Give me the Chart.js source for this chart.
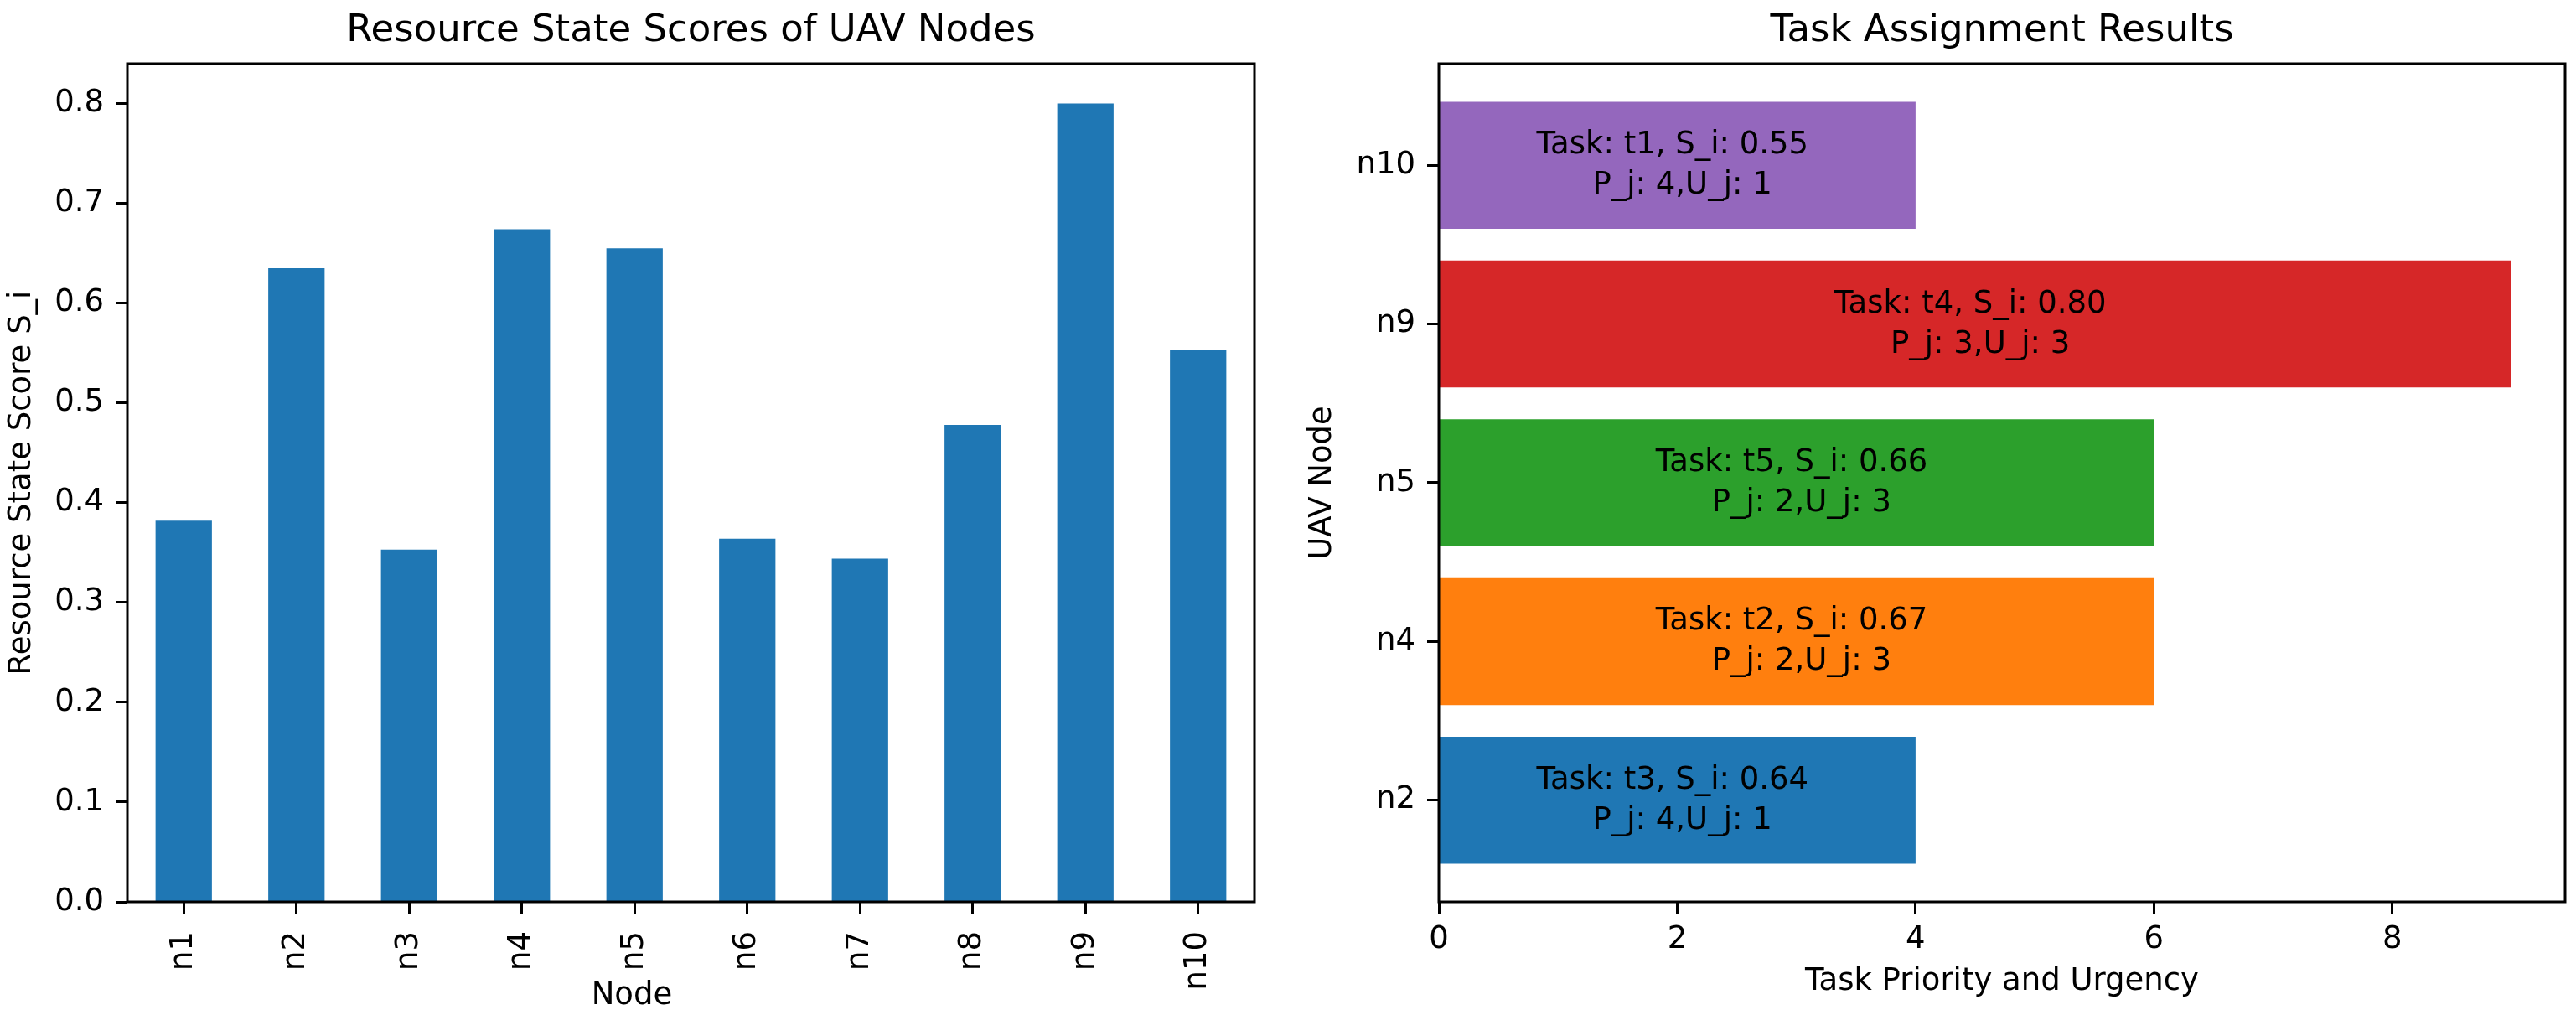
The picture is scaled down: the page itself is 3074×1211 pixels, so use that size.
<!DOCTYPE html>
<html>
<head>
<meta charset="utf-8">
<script src="https://cdn.jsdelivr.net/npm/chart.js@4/dist/chart.umd.min.js"></script>
<style>
    html, body { margin: 0; padding: 0; background: #fff; }
    #wrap { position: relative; width: 3074px; height: 1211px; overflow: hidden; }
    .box { position: absolute; top: 0; }
</style>
</head>
<body>
<div id="wrap">
    <div class="box" style="left:0"><canvas id="scoreChart" width="1540" height="1211"></canvas></div>
    <div class="box" style="left:1540px"><canvas id="taskChart" width="1534" height="1211"></canvas></div>
</div>
<script>
// left panel: resource state score per node
var nodes = ['n1', 'n2', 'n3', 'n4', 'n5', 'n6', 'n7', 'n8', 'n9', 'n10'];
var scores = [0.382, 0.635, 0.353, 0.674, 0.655, 0.364, 0.344, 0.478, 0.800, 0.553];
var scoreTicks = [0.0, 0.1, 0.2, 0.3, 0.4, 0.5, 0.6, 0.7, 0.8];

// right panel: task assignment (bottom to top)
var assignNodes = ['n2', 'n4', 'n5', 'n9', 'n10'];
var assignValues = [4, 6, 6, 9, 4];
var assignTasks = ['t3', 't2', 't5', 't4', 't1'];
var assignScores = [0.64, 0.67, 0.66, 0.80, 0.55];
var assignP = [4, 2, 2, 3, 4];
var assignU = [1, 3, 3, 3, 1];
var assignColors = ['#1f77b4', '#ff7f0e', '#2ca02c', '#d62728', '#9467bd'];
var priorityTicks = [0, 2, 4, 6, 8];

Chart.defaults.font.family = "'DejaVu Sans', sans-serif";
Chart.defaults.color = '#000';
Chart.defaults.animation = false;

var FONT_TICK = 37;
var FONT_TITLE = 45;

// black box round the plot area, like matplotlib spines
var framePlugin = {
    id: 'frame',
    afterDraw: function (chart) {
        var a = chart.chartArea, ctx = chart.ctx;
        ctx.save();
        ctx.strokeStyle = '#000';
        ctx.lineWidth = 3;
        ctx.strokeRect(a.left, a.top, a.right - a.left, a.bottom - a.top);
        ctx.restore();
    }
};

// two-line text in the middle of each horizontal bar
var barTextPlugin = {
    id: 'barText',
    afterDatasetsDraw: function (chart) {
        var ctx = chart.ctx;
        var meta = chart.getDatasetMeta(0);
        ctx.save();
        ctx.font = FONT_TICK + "px 'DejaVu Sans'";
        ctx.fillStyle = '#000';
        ctx.textAlign = 'center';
        ctx.textBaseline = 'alphabetic';
        meta.data.forEach(function (bar, i) {
            var cx = (bar.x + bar.base) / 2;
            var line1 = 'Task: ' + assignTasks[i] + ', S_i: ' + assignScores[i].toFixed(2) + ' ';
            var line2 = ' P_j: ' + assignP[i] + ',U_j: ' + assignU[i];
            ctx.fillText(line1, cx, bar.y - 14);
            ctx.fillText(line2, cx, bar.y + 34);
        });
        ctx.restore();
    }
};

function fixWidth(w) { return function (s) { s.width = w; }; }
function fixHeight(h) { return function (s) { s.height = h; }; }

var tickGrid = {
    drawOnChartArea: false,
    drawTicks: true,
    tickLength: 14,
    tickWidth: 3,
    tickColor: '#000',
    offset: false
};

var titleAxis = function (text, pad) {
    return {
        type: 'linear',
        position: 'top',
        min: 0, max: 1,
        ticks: { display: false },
        grid: { display: false },
        border: { display: false },
        title: { display: true, text: text, font: { size: FONT_TITLE }, padding: { top: pad, bottom: 0 } },
        afterFit: fixHeight(76)
    };
};

new Chart(document.getElementById('scoreChart'), {
    type: 'bar',
    data: {
        labels: nodes,
        datasets: [{
            data: scores,
            backgroundColor: '#1f77b4',
            borderWidth: 0,
            categoryPercentage: 1.0,
            barPercentage: 0.5
        }]
    },
    options: {
        responsive: false,
        devicePixelRatio: 1,
        layout: { padding: { left: 0, right: 43, top: 0, bottom: 0 } },
        plugins: { legend: { display: false }, tooltip: { enabled: false } },
        scales: {
            x: {
                type: 'category',
                position: 'bottom',
                grid: tickGrid,
                border: { display: false },
                ticks: { font: { size: FONT_TICK }, minRotation: 90, maxRotation: 90, autoSkip: false, padding: 21 },
                title: { display: true, text: 'Node' + '\u00a0'.repeat(12), font: { size: FONT_TICK }, padding: { top: 0, bottom: 0 } },
                afterFit: fixHeight(135)
            },
            y: {
                min: 0,
                max: 0.84,
                grid: tickGrid,
                border: { display: false },
                ticks: {
                    font: { size: FONT_TICK },
                    padding: 14,
                    callback: function (v) { return v.toFixed(1); }
                },
                afterBuildTicks: function (s) { s.ticks = scoreTicks.map(function (v) { return { value: v }; }); },
                title: { display: true, text: 'Resource State Score S_i', font: { size: FONT_TICK }, padding: { top: 4, bottom: 0 } },
                afterFit: fixWidth(152)
            },
            top: titleAxis('Resource State Scores of UAV Nodes', 10)
        }
    },
    plugins: [framePlugin]
});

new Chart(document.getElementById('taskChart'), {
    type: 'bar',
    data: {
        datasets: [{
            data: assignNodes.map(function (n, i) { return { x: assignValues[i], y: i }; }),
            backgroundColor: assignColors,
            borderWidth: 0,
            categoryPercentage: 1.0,
            barPercentage: 0.8
        }]
    },
    options: {
        indexAxis: 'y',
        responsive: false,
        devicePixelRatio: 1,
        layout: { padding: { left: 0, right: 13, top: 0, bottom: 0 } },
        plugins: { legend: { display: false }, tooltip: { enabled: false } },
        scales: {
            x: {
                type: 'linear',
                position: 'bottom',
                min: 0,
                max: 9.45,
                grid: tickGrid,
                border: { display: false },
                ticks: { font: { size: FONT_TICK }, padding: 9, callback: function (v) { return String(v); } },
                afterBuildTicks: function (s) { s.ticks = priorityTicks.map(function (v) { return { value: v }; }); },
                title: { display: true, text: 'Task Priority and Urgency', font: { size: FONT_TICK }, padding: { top: 0, bottom: 17 } },
                afterFit: fixHeight(135)
            },
            y: {
                type: 'linear',
                position: 'left',
                min: -0.64,
                max: 4.64,
                offset: false,
                grid: tickGrid,
                border: { display: false },
                ticks: { font: { size: FONT_TICK }, padding: 14, callback: function (v) { return assignNodes[v]; } },
                afterBuildTicks: function (s) { s.ticks = assignNodes.map(function (n, i) { return { value: i }; }); },
                title: { display: true, text: 'UAV Node', font: { size: FONT_TICK }, padding: { top: 16, bottom: 0 } },
                afterFit: fixWidth(177)
            },
            top: titleAxis('Task Assignment Results', 10)
        }
    },
    plugins: [framePlugin, barTextPlugin]
});
</script>
</body>
</html>
